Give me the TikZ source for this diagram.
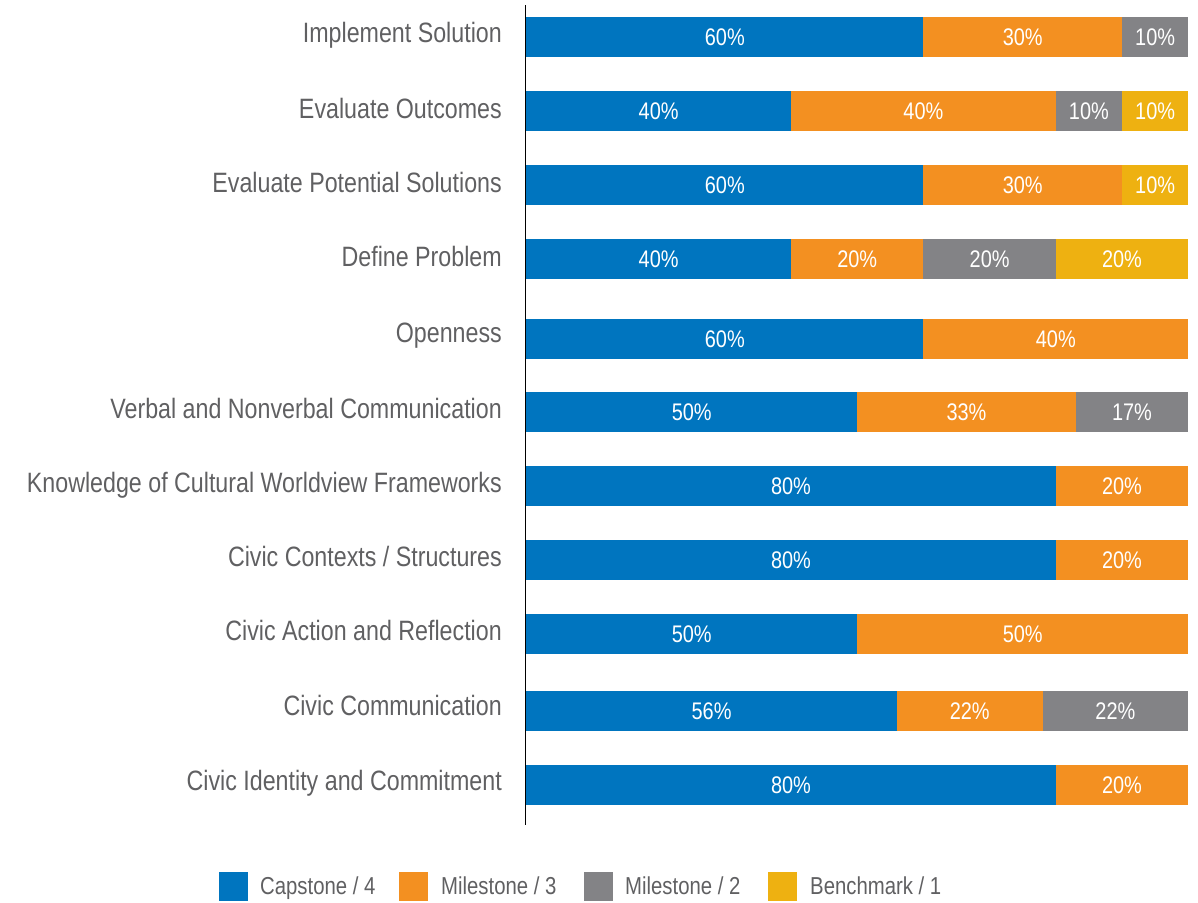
\documentclass[tikz,border=0pt]{standalone}
\usepackage{fontspec}
\setmainfont{Liberation Sans}[FakeStretch=0.83]
\definecolor{cblue}{HTML}{0075BF}
\definecolor{corange}{HTML}{F39021}
\definecolor{cgray}{HTML}{838386}
\definecolor{cyellow}{HTML}{EEB111}
\definecolor{ctext}{HTML}{606062}
\tikzset{
  seg/.style={inner sep=0pt, minimum height=40pt, text=white, font=\fontsize{24}{26}\selectfont, text height=17.2pt, text depth=0pt, anchor=west},
  cat/.style={anchor=base east, inner sep=0pt, text=ctext, font=\fontsize{28}{30}\selectfont},
  legbox/.style={minimum width=29pt, minimum height=29pt, inner sep=0pt, anchor=west},
  legtext/.style={anchor=west, inner sep=0pt, text=ctext, text height=17pt, text depth=0pt, font=\fontsize{24.5}{26}\selectfont},
}
\newcommand\segm[5]{\node[seg, fill=#4, minimum width={#3*6.62pt}] (#1) at ({526+#2*6.62},#5) {#3\%};}
\begin{document}
\begin{tikzpicture}[x=1pt,y=-1pt]
\useasboundingbox (0,0) rectangle (1198,902);
% axis
\coordinate (axtop) at (525,5);
\coordinate (axbot) at (525,825);
\draw[line width=1pt] (axtop) -- (axbot);
% row 1
\node[cat] (l1) at (502,42) {Implement Solution};
\segm{a1}{0}{60}{cblue}{37}
\segm{b1}{60}{30}{corange}{37}
\segm{c1}{90}{10}{cgray}{37}
% row 2
\node[cat] (l2) at (502,118) {Evaluate Outcomes};
\segm{a2}{0}{40}{cblue}{111}
\segm{b2}{40}{40}{corange}{111}
\segm{c2}{80}{10}{cgray}{111}
\segm{d2}{90}{10}{cyellow}{111}
% row 3
\node[cat] (l3) at (502,192) {Evaluate Potential Solutions};
\segm{a3}{0}{60}{cblue}{185}
\segm{b3}{60}{30}{corange}{185}
\segm{d3}{90}{10}{cyellow}{185}
% row 4
\node[cat] (l4) at (502,266) {Define Problem};
\segm{a4}{0}{40}{cblue}{259}
\segm{b4}{40}{20}{corange}{259}
\segm{c4}{60}{20}{cgray}{259}
\segm{d4}{80}{20}{cyellow}{259}
% row 5
\node[cat] (l5) at (502,342) {Openness};
\segm{a5}{0}{60}{cblue}{339}
\segm{b5}{60}{40}{corange}{339}
% row 6
\node[cat] (l6) at (502,418) {Verbal and Nonverbal Communication};
\segm{a6}{0}{50}{cblue}{412}
\segm{b6}{50}{33}{corange}{412}
\segm{c6}{83}{17}{cgray}{412}
% row 7
\node[cat] (l7) at (502,492) {Knowledge of Cultural Worldview Frameworks};
\segm{a7}{0}{80}{cblue}{486}
\segm{b7}{80}{20}{corange}{486}
% row 8
\node[cat] (l8) at (502,566) {Civic Contexts / Structures};
\segm{a8}{0}{80}{cblue}{560}
\segm{b8}{80}{20}{corange}{560}
% row 9
\node[cat] (l9) at (502,640) {Civic Action and Reflection};
\segm{a9}{0}{50}{cblue}{634}
\segm{b9}{50}{50}{corange}{634}
% row 10
\node[cat] (l10) at (502,715) {Civic Communication};
\segm{a10}{0}{56}{cblue}{711}
\segm{b10}{56}{22}{corange}{711}
\segm{c10}{78}{22}{cgray}{711}
% row 11
\node[cat] (l11) at (502,790) {Civic Identity and Commitment};
\segm{a11}{0}{80}{cblue}{785}
\segm{b11}{80}{20}{corange}{785}
% legend
\node[legbox, fill=cblue] (k1) at (219,886) {};
\node[legtext] (t1) at (260,886) {Capstone / 4};
\node[legbox, fill=corange] (k2) at (399,886) {};
\node[legtext] (t2) at (441,886) {Milestone / 3};
\node[legbox, fill=cgray] (k3) at (584,886) {};
\node[legtext] (t3) at (625,886) {Milestone / 2};
\node[legbox, fill=cyellow] (k4) at (768,886) {};
\node[legtext] (t4) at (810,886) {Benchmark / 1};
\end{tikzpicture}
\end{document}
